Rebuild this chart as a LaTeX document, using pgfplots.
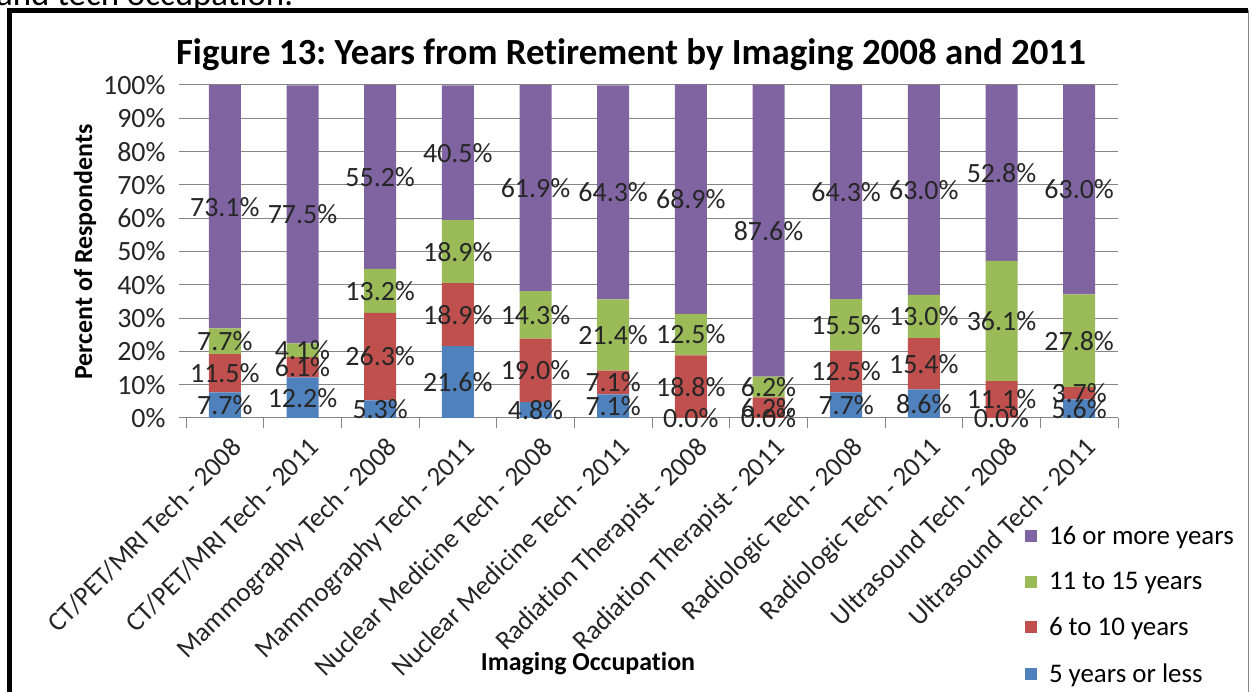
\documentclass[border=0pt]{standalone}
\usepackage{pgfplots}
\pgfplotsset{compat=1.18}
\usepackage{pgfplotstable}
\usepackage{fontspec}
\setmainfont{Carlito}[Ligatures=NoCommon]
\definecolor{cblue}{HTML}{4F81BD}
\definecolor{cred}{HTML}{C0504D}
\definecolor{cgreen}{HTML}{9BBB59}
\definecolor{cpurple}{HTML}{8064A2}
\definecolor{gridgray}{HTML}{868686}
\newcommand{\fs}[1]{\fontsize{#1}{#1}\selectfont}
\frenchspacing
\pgfplotstableread{
x a b c d
0 7.7 11.5 7.7 73.1
1 12.2 6.1 4.1 77.5
2 5.3 26.3 13.2 55.2
3 21.6 18.9 18.9 40.5
4 4.8 19.0 14.3 61.9
5 7.1 7.1 21.4 64.3
6 0.0 18.8 12.5 68.9
7 0.0 6.2 6.2 87.6
8 7.7 12.5 15.5 64.3
9 8.6 15.4 13.0 63.0
10 0.0 11.1 36.1 52.8
11 5.6 3.7 27.8 63.0
}\data
\begin{document}
\begin{tikzpicture}[x=1bp,y=1bp]
\useasboundingbox (0,0) rectangle (1249,692);
\fill[white] (0,0) rectangle (1249,692);
\node[anchor=base west, font=\fs{35}, inner sep=0pt] at (-4,686) {and tech occupation.};
\draw[line width=5bp] (9.5,0) -- (9.5,681.5) -- (1248,681.5);
\draw[gridgray, line width=1bp] (1248,681.5) -- (1248,0);
\begin{axis}[
  at={(186bp,274bp)}, anchor=south west,
  scale only axis, width=932bp, height=333bp,
  ybar stacked, bar width=32bp,
  xmin=-0.5, xmax=11.5, ymin=0, ymax=100,
  axis lines*=left,
  y axis line style={draw=none},
  x axis line style={draw=gridgray, line width=1bp, -},
  ymajorgrids, grid style={draw=gridgray, line width=1bp},
  tick align=outside, major tick length=7bp,
  ytick={0,10,...,100},
  yticklabel={\pgfmathprintnumber{\tick}\%},
  yticklabel style={xshift=-10bp},
  ytick style={draw=gridgray, line width=1bp},
  /pgf/number format/assume math mode=true,
  tick label style={font=\fs{28}, text=black!85},
  xtick={0,...,11},
  xtick style={draw=none},
  xticklabels={CT/PET/MRI Tech - 2008, CT/PET/MRI Tech - 2011, Mammography Tech - 2008, Mammography Tech - 2011, Nuclear Medicine Tech - 2008, Nuclear Medicine Tech - 2011, Radiation Therapist - 2008, Radiation Therapist - 2011, Radiologic Tech - 2008, Radiologic Tech - 2011, Ultrasound Tech - 2008, Ultrasound Tech - 2011},
  xticklabel style={rotate=45, anchor=north east, inner sep=2bp, font=\fs{27}, yshift=-9bp, xshift=-2bp},
  extra x ticks={-0.5,0.5,...,11.5},
  extra x tick labels={},
  extra x tick style={xtick style={draw=gridgray, line width=1bp}, major tick length=10bp, grid=none},
  legend style={at={(0.900,-0.318)}, anchor=north west, draw=none, fill=none, font=\fs{27}, row sep=22.5bp, inner sep=0pt},
  legend cell align=left,
  reverse legend,
  legend image code/.code={\fill[#1] (0bp,-6bp) rectangle (12bp,6bp); \path (22bp,0bp);},
]
\addplot[fill=cblue, draw=none] table[x=x,y=a]{\data};
\addplot[fill=cred, draw=none] table[x=x,y=b]{\data};
\addplot[fill=cgreen, draw=none] table[x=x,y=c]{\data};
\addplot[fill=cpurple, draw=none] table[x=x,y=d]{\data};
\legend{5 years or less, 6 to 10 years, 11 to 15 years, 16 or more years}
\end{axis}
\begin{axis}[
  at={(186bp,274bp)}, anchor=south west,
  scale only axis, width=932bp, height=333bp,
  xmin=-0.5, xmax=11.5, ymin=0, ymax=100,
  hide axis, clip=false,
  /pgf/number format/assume math mode=true,
  nodes near coords={\pgfmathprintnumber[fixed,fixed zerofill,precision=1,assume math mode=true]{\pgfplotspointmeta}\%},
  nodes near coords style={anchor=center, font=\fs{28}, text=black!85, inner sep=0pt},
]
\addplot[draw=none, mark=none, point meta=\thisrow{a}] table[x=x, y expr=\thisrow{a}/2]{\data};
\addplot[draw=none, mark=none, point meta=\thisrow{b}] table[x=x, y expr=\thisrow{a}+\thisrow{b}/2]{\data};
\addplot[draw=none, mark=none, point meta=\thisrow{c}] table[x=x, y expr=\thisrow{a}+\thisrow{b}+\thisrow{c}/2]{\data};
\addplot[draw=none, mark=none, point meta=\thisrow{d}] table[x=x, y expr=\thisrow{a}+\thisrow{b}+\thisrow{c}+\thisrow{d}/2]{\data};
\end{axis}
\node[font=\bfseries\fs{37}] at (631,637) {Figure 13: Years from Retirement by Imaging 2008 and 2011};
\node[font=\bfseries\fs{26}, rotate=90] at (85,440) {Percent of Respondents};
\node[font=\bfseries\fs{26}] at (588,28) {Imaging Occupation};
\end{tikzpicture}
\end{document}
